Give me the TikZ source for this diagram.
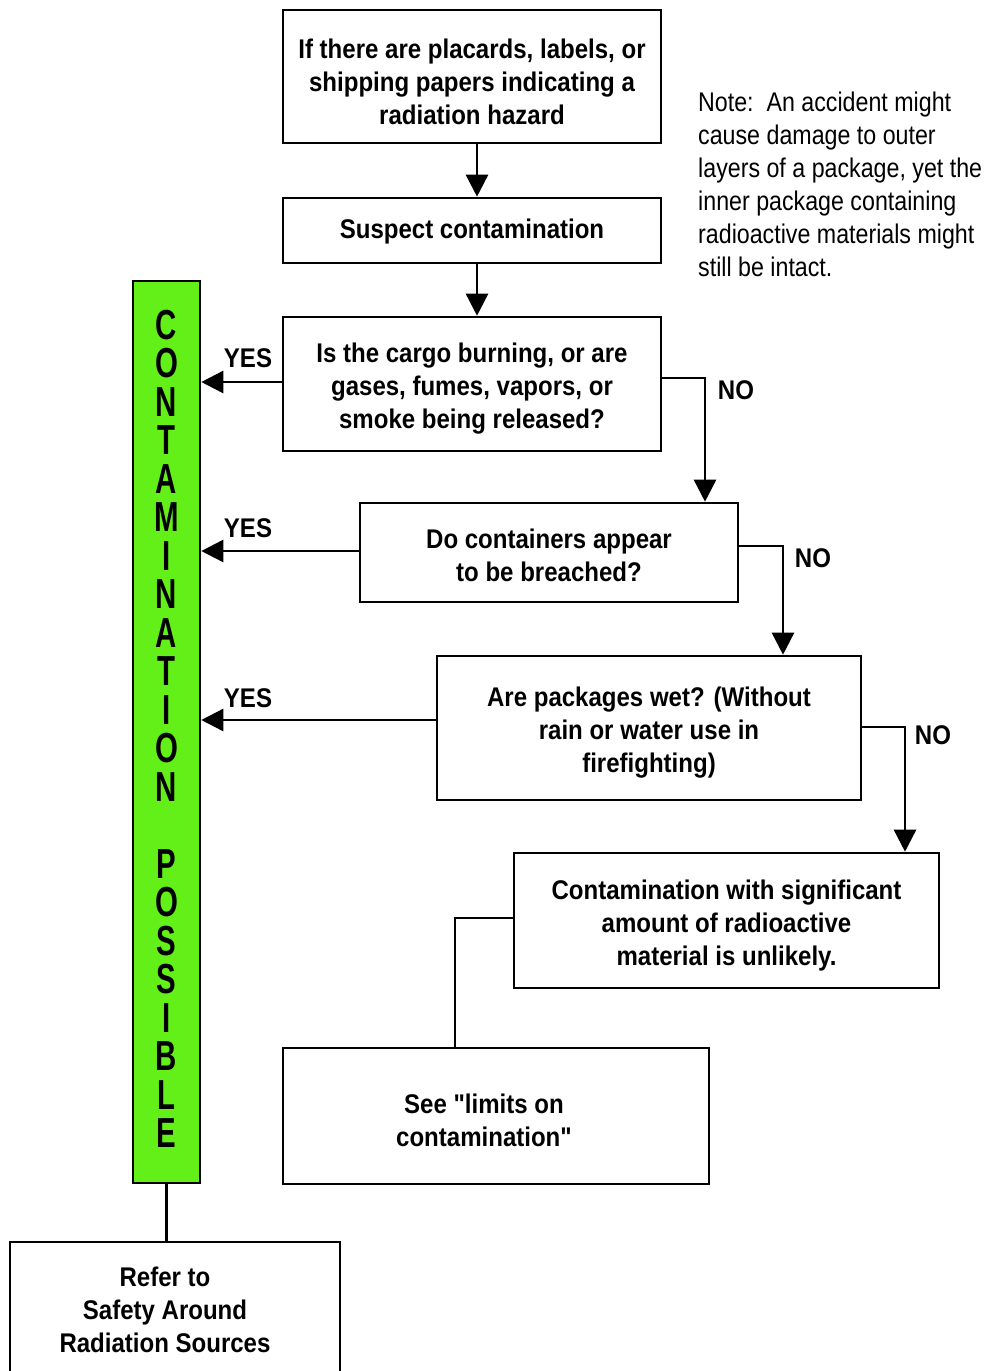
\documentclass[tikz,border=0pt]{standalone}
\usepackage{fontspec}
\setmainfont[FakeStretch=0.89,Ligatures=TeXOff]{Liberation Sans}
\newfontfamily\barfont[FakeStretch=0.70]{Liberation Sans}
\newfontfamily\notefont[FakeStretch=0.86]{Liberation Sans}
\usetikzlibrary{arrows.meta}
\definecolor{bargreen}{RGB}{98,240,24}
\newcommand{\tpA}{\rule{0pt}{29.5pt}}
\newcommand{\tpB}{\rule{0pt}{26pt}}
\begin{document}
\begin{tikzpicture}[x=1pt,y=-1pt,
  box/.style={draw,line width=2.6pt,minimum width=#1,inner sep=0pt,align=center,
    font=\bfseries\fontsize{27}{33}\selectfont},
  btxt/.style={align=center,inner sep=0pt,font=\bfseries\fontsize{27}{33}\selectfont},
  arr/.style={line width=2.6pt,-{Triangle[length=22pt,width=22pt]}},
  ln/.style={line width=2.6pt},
  lab/.style={inner sep=0pt,font=\bfseries\fontsize{27}{33}\selectfont},
]
\useasboundingbox (0,0) rectangle (989,1371);
\clip (0,0) rectangle (989,1371);

\node[box=378pt,minimum height=133pt] (b1) at (472,76.5)
  {\tpA If there are placards, labels, or\\shipping papers indicating a\\radiation hazard};
\node[box=378pt,minimum height=65pt] (b2) at (472,230.5) {\rule{0pt}{22pt}Suspect contamination};
\node[box=378pt,minimum height=134pt] (b3) at (472,384)
  {\tpA Is the cargo burning, or are\\gases, fumes, vapors, or\\smoke being released?};
\node[box=378pt,minimum height=99pt] (b4) at (549,552.5)
  {\tpB Do containers appear\\to be breached?};
\node[box=424pt,minimum height=144pt] (b5) at (649,728)
  {\tpA Are packages wet? (Without\\rain or water use in\\firefighting)};
\node[box=425pt,minimum height=135pt] (b6) at (726.5,920.5)
  {\tpA Contamination with significant\\amount of radioactive\\material is unlikely.};
\node[box=426pt,minimum height=136pt] (b7) at (496,1116) {};
\node[btxt] (b7t) at (484,1120) {See "limits on\\contamination"};
\node[box=330pt,minimum height=136pt] (b8) at (175,1310) {};
\node[btxt] (b8t) at (165,1310) {Refer to\\Safety Around\\Radiation Sources};

\node[draw,line width=2.6pt,fill=bargreen,minimum width=67pt,minimum height=902pt,inner sep=0pt] (bar) at (166.5,732) {};
\node[inner sep=0pt,align=center,font=\barfont\bfseries\fontsize{42}{38.5}\selectfont] (bart) at (166.5,729)
  {C\\O\\N\\T\\A\\M\\I\\N\\A\\T\\I\\O\\N\\[38.5pt]P\\O\\S\\S\\I\\B\\L\\E};

\node[anchor=west,align=left,inner sep=0pt,font=\notefont\fontsize{27}{33}\selectfont] (note) at (698,184)
  {Note:\ \ An accident might\\cause damage to outer\\layers of a package, yet the\\inner package containing\\radioactive materials might\\still be intact.};

\draw[arr] ([xshift=5pt]b1.south) -- ([xshift=5pt]b2.north);
\draw[arr] ([xshift=5pt]b2.south) -- ([xshift=5pt]b3.north);

\draw[arr] ([yshift=2pt]b3.west) -- ([yshift=2pt]b3.west -| bar.east);
\draw[arr] ([yshift=1.5pt]b4.west) -- ([yshift=1.5pt]b4.west -| bar.east);
\draw[arr] ([yshift=8pt]b5.west) -- ([yshift=8pt]b5.west -| bar.east);

\draw[arr] ([yshift=6pt]b3.east) -| ([xshift=156pt]b4.north);
\draw[arr] ([yshift=6.5pt]b4.east) -| ([xshift=134pt]b5.north);
\draw[arr] ([yshift=1pt]b5.east) -| ([xshift=178.5pt]b6.north);
\draw[ln] ([yshift=2.5pt]b6.west) -| ([xshift=-41pt]b7.north);
\draw[ln] (bar.south) -- (bar.south |- b8.north);

\node[lab] (y1) at (248,358) {YES};
\node[lab] (y2) at (248,528) {YES};
\node[lab] (y3) at (248,698) {YES};
\node[lab] (n1) at (736,390) {NO};
\node[lab] (n2) at (813,558) {NO};
\node[lab] (n3) at (933,735) {NO};
\end{tikzpicture}
\end{document}
